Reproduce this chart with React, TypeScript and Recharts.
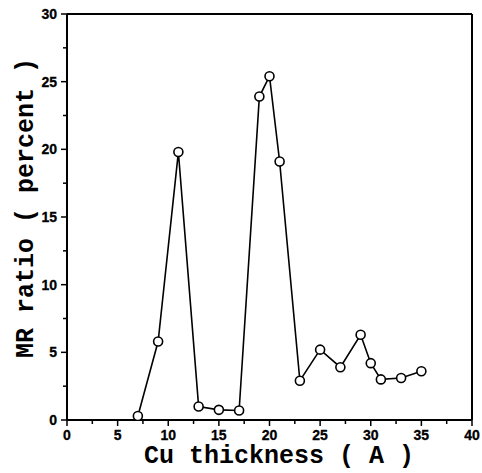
import React from 'react';
import { LineChart, Line, XAxis, YAxis, ReferenceLine } from 'recharts';

const thickness = [7, 9, 11, 13, 15, 17, 19, 20, 21, 23, 25, 27, 29, 30, 31, 33, 35];
const mrRatio = [0.3, 5.8, 19.8, 1.0, 0.75, 0.7, 23.9, 25.4, 19.1, 2.9, 5.2, 3.9, 6.3, 4.2, 3.0, 3.1, 3.6];
const xTicks = [0, 2.5, 5, 7.5, 10, 12.5, 15, 17.5, 20, 22.5, 25, 27.5, 30, 32.5, 35, 37.5, 40];
const yTicks = [0, 2.5, 5, 7.5, 10, 12.5, 15, 17.5, 20, 22.5, 25, 27.5, 30];
const xTitle = 'Cu thickness ( A )';
const yTitle = 'MR ratio ( percent )';

const data = thickness.map((t, i) => ({ t, mr: mrRatio[i] }));

const tickFont = '"Liberation Sans", Arial, sans-serif';
const titleFont = '"Liberation Mono", "DejaVu Sans Mono", monospace';

const XTick = (props: any) => {
  const { x, y, payload } = props;
  const v = payload.value;
  const major = v % 5 === 0;
  return (
    <g>
      <line x1={x} x2={x} y1={y} y2={y + (major ? 6 : 4)} stroke="#000" strokeWidth={1.5} />
      {major && (
        <text
          x={x}
          y={y + 20}
          textAnchor="middle"
          fontFamily={tickFont}
          fontWeight="bold"
          fontSize={14}
          fill="#000"
          stroke="#000"
          strokeWidth={0.3}
          style={{ fontWeight: 700 }}
        >
          {v}
        </text>
      )}
    </g>
  );
};

const YTick = (props: any) => {
  const { x, y, payload } = props;
  const v = payload.value;
  const major = v % 5 === 0;
  return (
    <g>
      <line x1={x} x2={x - (major ? 6 : 4)} y1={y} y2={y} stroke="#000" strokeWidth={1.5} />
      {major && (
        <text
          x={x - 10}
          y={y + 5}
          textAnchor="end"
          fontFamily={tickFont}
          fontWeight="bold"
          fontSize={14}
          fill="#000"
          stroke="#000"
          strokeWidth={0.3}
          style={{ fontWeight: 700 }}
        >
          {v}
        </text>
      )}
    </g>
  );
};

const Dot = (props: any) => {
  const { cx, cy, index } = props;
  if (cx == null || cy == null) return <g key={index} />;
  return <circle key={index} cx={cx} cy={cy} r={4.5} fill="#fff" stroke="#000" strokeWidth={1.6} />;
};

export default function App() {
  return (
    <div style={{ position: 'absolute', left: 0, top: 0, width: 482, height: 473, background: '#fff' }}>
      <LineChart width={482} height={473} data={data} margin={{ top: 14, right: 10, bottom: 0, left: 0 }}>
        <XAxis
          dataKey="t"
          type="number"
          domain={[0, 40]}
          ticks={xTicks}
          interval={0}
          tickSize={0}
          tickMargin={0}
          tickLine={false}
          tick={<XTick />}
          height={53}
          axisLine={{ stroke: '#000', strokeWidth: 2 }}
          allowDataOverflow
        />
        <YAxis
          type="number"
          domain={[0, 30]}
          ticks={yTicks}
          interval={0}
          tickSize={0}
          tickMargin={0}
          tickLine={false}
          tick={<YTick />}
          width={67}
          axisLine={{ stroke: '#000', strokeWidth: 2 }}
          allowDataOverflow
        />
        <ReferenceLine y={30} stroke="#000" strokeWidth={2} />
        <ReferenceLine x={40} stroke="#000" strokeWidth={2} />
        <Line
          type="linear"
          dataKey="mr"
          stroke="#000"
          strokeWidth={1.6}
          dot={<Dot />}
          activeDot={false}
          isAnimationActive={false}
        />
      </LineChart>
      <svg width={482} height={473} style={{ position: 'absolute', left: 0, top: 0, pointerEvents: 'none' }}>
        <text x={279} y={463} textAnchor="middle" fontFamily={titleFont} fontWeight="bold" fontSize={25} fill="#000">
          {xTitle}
        </text>
        <text
          x={33}
          y={208}
          textAnchor="middle"
          fontFamily={titleFont}
          fontWeight="bold"
          fontSize={25}
          fill="#000"
          transform="rotate(-90, 33, 208)"
        >
          {yTitle}
        </text>
      </svg>
    </div>
  );
}
